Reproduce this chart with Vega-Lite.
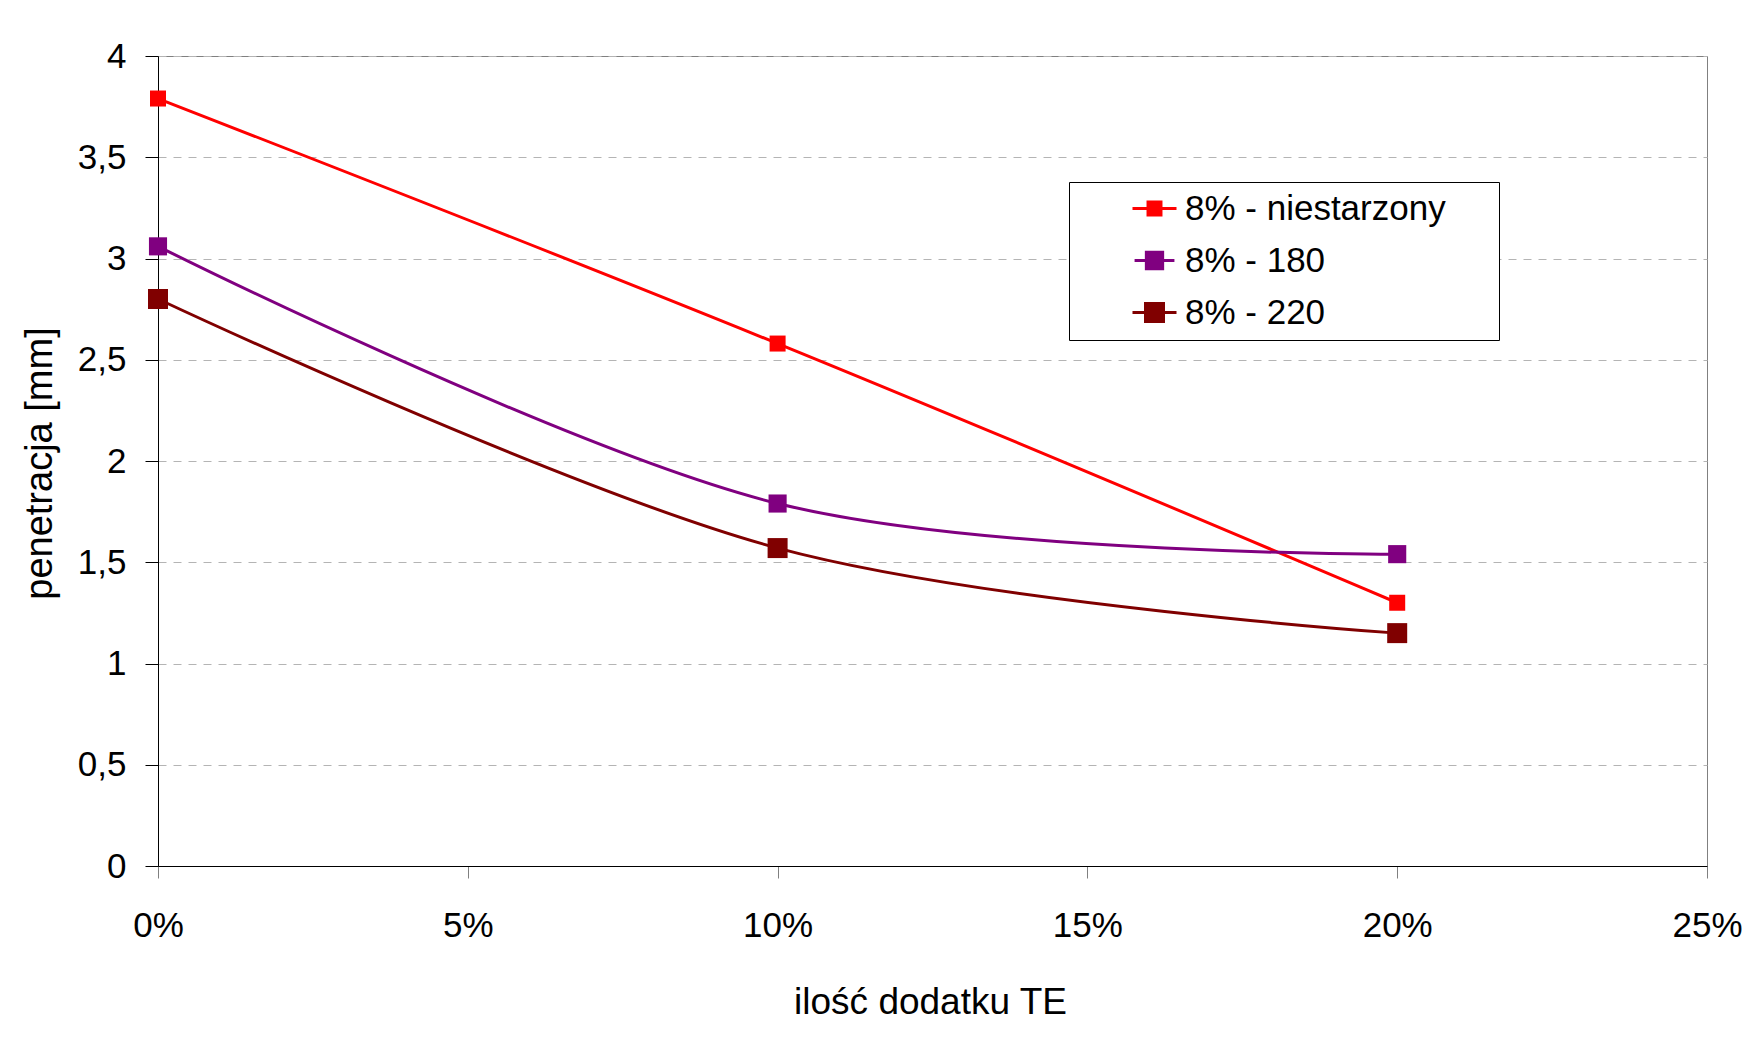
{
  "$schema": "https://vega.github.io/schema/vega-lite/v6.json",
  "width": 1549,
  "height": 810,
  "autosize": {"type": "none"},
  "padding": {"left": 158, "top": 56, "right": 43, "bottom": 188},
  "background": "white",
  "config": {
    "font": "Liberation Sans",
    "view": {"stroke": "#808080", "strokeWidth": 1}
  },
  "data": {
    "values": [
      {"seria": "8% - niestarzony", "dodatek": 0.0, "penetracja": 3.79},
      {"seria": "8% - niestarzony", "dodatek": 0.1, "penetracja": 2.58},
      {"seria": "8% - niestarzony", "dodatek": 0.2, "penetracja": 1.30},
      {"seria": "8% - 180", "dodatek": 0.0, "penetracja": 3.06},
      {"seria": "8% - 180", "dodatek": 0.1, "penetracja": 1.79},
      {"seria": "8% - 180", "dodatek": 0.2, "penetracja": 1.54},
      {"seria": "8% - 220", "dodatek": 0.0, "penetracja": 2.80},
      {"seria": "8% - 220", "dodatek": 0.1, "penetracja": 1.57},
      {"seria": "8% - 220", "dodatek": 0.2, "penetracja": 1.15}
    ]
  },
  "encoding": {
    "x": {
      "field": "dodatek",
      "type": "quantitative",
      "scale": {"domain": [0, 0.25], "nice": false, "zero": false},
      "axis": {
        "title": "ilość dodatku TE",
        "values": [0, 0.05, 0.1, 0.15, 0.2, 0.25],
        "format": ".0%",
        "grid": false,
        "domainColor": "black",
        "domainWidth": 1,
        "tickColor": "#808080",
        "tickSize": 12,
        "tickWidth": 1,
        "labelFontSize": 35,
        "labelColor": "black",
        "labelBaseline": "alphabetic",
        "labelPadding": 58,
        "labelFlush": false,
        "labelOverlap": false,
        "titleFontSize": 37,
        "titleFontWeight": "normal",
        "titleColor": "black",
        "titleX": 772,
        "titleY": 147,
        "titleAlign": "center",
        "titleBaseline": "alphabetic"
      }
    },
    "y": {
      "field": "penetracja",
      "type": "quantitative",
      "scale": {"domain": [0, 4], "nice": false},
      "axis": {
        "title": "penetracja [mm]",
        "values": [0, 0.5, 1, 1.5, 2, 2.5, 3, 3.5, 4],
        "labelExpr": "replace(format(datum.value, '~g'), '.', ',')",
        "grid": true,
        "gridColor": "#b4b4b4",
        "gridDash": [8, 7],
        "gridWidth": 1,
        "domainColor": "black",
        "domainWidth": 1,
        "tickColor": "black",
        "tickSize": 13,
        "tickWidth": 1,
        "labelFontSize": 35,
        "labelColor": "black",
        "labelPadding": 19,
        "labelOverlap": false,
        "titleFontSize": 38,
        "titleFontWeight": "normal",
        "titleColor": "black",
        "titleAngle": 270,
        "titleX": -107,
        "titleY": 407,
        "titleAlign": "center",
        "titleBaseline": "alphabetic"
      }
    },
    "color": {
      "field": "seria",
      "type": "nominal",
      "scale": {
        "domain": ["8% - niestarzony", "8% - 180", "8% - 220"],
        "range": ["#ff0000", "#800080", "#800000"]
      },
      "legend": {
        "title": "\u00a0",
        "titleOrient": "right",
        "titlePadding": 44,
        "titleFontSize": 2,
        "orient": "none",
        "legendX": 911,
        "legendY": 126,
        "padding": 9,
        "rowPadding": 16,
        "symbolOffset": 59,
        "symbolStrokeWidth": 3,
        "labelFontSize": 35,
        "labelFont": "Liberation Sans",
        "labelColor": "black",
        "labelOffset": 13,
        "labelLimit": 800,
        "strokeColor": "black",
        "fillColor": "white",
        "encode": {
          "symbols": {
            "update": {
              "fill": {"signal": "scale('color', datum.value)"},
              "stroke": {"signal": "scale('color', datum.value)"},
              "strokeWidth": {"value": 3},
              "opacity": {"value": 1},
              "shape": {"signal": "datum.value === '8% - niestarzony' ? 'M-2.75,0H2.75M-0.81,-0.81H0.81V0.81H-0.81Z' : 'M-2.2,0H2.2M-0.9,-0.9H0.9V0.9H-0.9Z'"}
            }
          }
        }
      }
    }
  },
  "layer": [
    {"mark": {"type": "line", "interpolate": "cardinal", "strokeWidth": 3}},
    {
      "mark": {"type": "point", "shape": "square", "filled": true, "opacity": 1},
      "encoding": {
        "size": {
          "field": "seria",
          "type": "nominal",
          "scale": {"domain": ["8% - niestarzony", "8% - 180", "8% - 220"], "range": [256, 400, 400]},
          "legend": null
        }
      }
    }
  ]
}
